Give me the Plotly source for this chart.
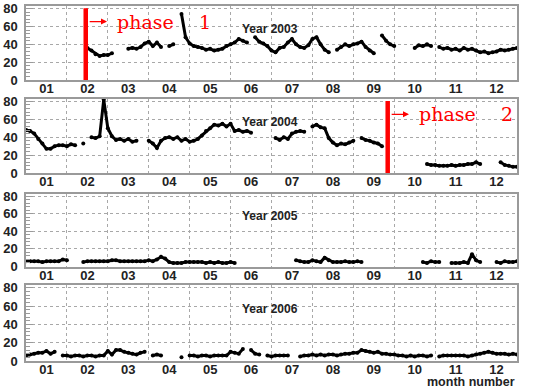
import plotly.graph_objects as go

N = None

# ---------------- data ----------------
month_labels = ["01", "02", "03", "04", "05", "06", "07", "08", "09", "10", "11", "12"]
years = ["2003", "2004", "2005", "2006"]
# sampling grid in month units (0 = start of January, 12 = end of December), step 0.1 month
sample_month = [round(0.1 * i, 1) for i in range(121)]

rate_2003 = [
    N, N, N, N, N, N, N, N, N, N,
    N, N, N, N, N, 36, 33, 29, 27, 28,
    28, 30, N, N, N, 35, 36, 35, 37, 41,
    43, 38, 42, 37, N, 38, 40, N, 74, 48,
    41, 38, 37, 36, 34, 35, 33, 34, 35, 38,
    40, 42, 46, 44, 42, N, 48, 43, 41, 38,
    33, 31, 36, 37, 42, 46, 40, 37, 36, 39,
    46, 48, 40, 34, 31, N, 34, 37, 40, 38,
    40, 41, 43, 37, 33, 30, N, 50, 44, 40,
    38, N, N, N, N, 36, 39, 38, 40, 38,
    N, 37, 35, 36, 34, 35, 33, 36, 34, 35,
    33, 31, 32, 30, 31, 32, 34, 33, 34, 35,
    36,
]

rate_2004 = [
    48, 47, 44, 38, 33, 27, 27, 30, 31, 31,
    30, 32, 31, N, 33, N, 40, 39, 41, 82,
    50, 41, 37, 38, 36, 38, 35, 36, N, N,
    36, 33, 28, 36, 39, 40, 38, 40, 36, 38,
    35, 36, 38, 42, 47, 50, 54, 53, 55, 52,
    55, 47, 48, 46, 47, 45, N, N, N, N,
    N, 39, 37, 40, 38, 44, 46, 47, 46, N,
    52, 54, 51, 50, 39, 34, 31, 33, 32, 34,
    36, N, 39, 37, 36, 34, 33, 30, N, N,
    N, N, N, N, N, N, N, N, 10, 9,
    9, 8, 8, 8, 9, 8, 9, 9, 10, 10,
    12, 10, N, N, N, N, 12, 9, 8, 7,
    7,
]

rate_2005 = [
    6, 6, 6, 6, 5, 6, 6, 6, 6, 8,
    7, N, N, N, 5, 6, 6, 6, 6, 6,
    6, 7, 7, 6, 6, 6, 6, 6, 6, 6,
    7, 6, 8, 11, 9, 5, 4, 4, 4, 5,
    5, 5, 5, 5, 4, 5, 4, 5, 4, 4,
    5, 4, N, N, N, N, N, N, N, N,
    N, N, N, N, N, N, 7, 6, 5, 5,
    7, 6, 5, 10, 7, 5, 5, 5, 6, 5,
    5, 6, 5, N, N, N, N, N, N, N,
    N, N, N, N, N, N, N, 5, 4, 6,
    5, 5, N, N, 4, 4, 4, 5, 4, 14,
    7, 5, N, N, N, 5, 4, 6, 5, 5,
    6,
]

rate_2006 = [
    6, 7, 8, 9, 9, 11, 8, 10, N, 6,
    6, 5, 6, 6, 5, 6, 6, 5, 6, 6,
    11, 7, 12, 12, 10, 9, 8, 7, 9, 10,
    N, 6, 7, 6, N, N, N, N, 4, N,
    6, 6, 5, 6, 6, 5, 6, 6, 6, 6,
    10, 9, 8, 13, N, 12, 8, 7, N, 6,
    5, 6, 6, 6, 6, N, N, 5, 6, 6,
    7, 6, 7, 6, 7, 7, 6, 7, 8, 8,
    9, 9, 12, 11, 10, 9, 10, 8, 8, 7,
    7, 6, 6, 5, 6, 5, 6, 6, 5, 6,
    N, 5, 6, 6, 6, 6, 6, 6, 5, 6,
    7, 8, 9, 10, 9, 8, 8, 8, 7, 8,
    7,
]

rates = [rate_2003, rate_2004, rate_2005, rate_2006]

phase_names = ["phase", "phase"]
phase_numbers = ["1", "2"]
phase_panel = [0, 1]          # which year panel
phase_start = [1.46, 8.84]    # month position of the phase boundary

# ---------------- style / layout ----------------
W, H = 544, 388
x_left_px, x_right_px = 26, 517
panel_px = [(6, 80), (98.7, 173), (193.5, 266.5), (285, 361)]

frame_color = "#9a9a9a"
grid_color = "#a8a8a8"
text_color = "#222222"
font_sans = "Liberation Sans, Arial, Helvetica, sans-serif"
font_phase = "DejaVu Serif, Liberation Serif, serif"

fig = go.Figure()
layout = dict(
    width=W, height=H,
    margin=dict(l=0, r=0, t=0, b=0),
    paper_bgcolor="white", plot_bgcolor="white",
    showlegend=False,
    annotations=[],
)

xdom = [x_left_px / W, x_right_px / W]

for i, (yr, vals) in enumerate(zip(years, rates)):
    n = "" if i == 0 else str(i + 1)
    top_px, bot_px = panel_px[i]
    ydom = [1 - bot_px / H, 1 - top_px / H]
    layout["xaxis" + n] = dict(
        domain=xdom, range=[0, 12], anchor="y" + n,
        tickmode="array", tickvals=[k + 0.5 for k in range(12)], ticktext=month_labels,
        ticks="", ticklen=0, ticklabelstandoff=-4, showgrid=False, zeroline=False,
        showline=True, mirror=True, linecolor=frame_color, linewidth=1.5,
        tickfont=dict(family=font_sans, size=13, color=text_color, weight="bold"),
        minor=dict(tickmode="array", tickvals=list(range(1, 12)), showgrid=True,
                   gridcolor=grid_color, griddash="dot", gridwidth=1, ticks=""),
        automargin=False, fixedrange=True,
    )
    layout["yaxis" + n] = dict(
        domain=ydom, range=[0, 83], anchor="x" + n,
        tickmode="array", tickvals=[0, 20, 40, 60, 80],
        ticks="inside", ticklen=7, tickcolor=frame_color, tickwidth=1,
        showgrid=True, gridcolor=grid_color, griddash="dot", gridwidth=1,
        zeroline=False, showline=True, mirror=True, linecolor=frame_color, linewidth=1.5,
        minor=dict(tick0=0, dtick=4, ticks="inside", ticklen=4, tickcolor=frame_color,
                   showgrid=False),
        ticklabelstandoff=4,
        tickfont=dict(family=font_sans, size=13, color=text_color, weight="bold"),
        automargin=False, fixedrange=True,
    )
    fig.add_trace(go.Scatter(
        x=sample_month, y=vals, mode="lines+markers", connectgaps=False,
        line=dict(color="black", width=3),
        marker=dict(size=4, color="black"),
        xaxis="x" + n, yaxis="y" + n, hoverinfo="skip",
    ))
    layout["annotations"].append(dict(
        text="Year " + yr, x=5.97, y=57, xref="x" + n, yref="y" + n,
        showarrow=False, xanchor="center", yanchor="middle",
        font=dict(family=font_sans, size=12, color=text_color, weight="bold"),
    ))

for name, num, p, m in zip(phase_names, phase_numbers, phase_panel, phase_start):
    n = "" if p == 0 else str(p + 1)
    fig.add_trace(go.Scatter(
        x=[m, m], y=[0, 80.5], mode="lines", line=dict(color="#ff0000", width=4.5),
        xaxis="x" + n, yaxis="y" + n, hoverinfo="skip", cliponaxis=False,
    ))
    layout["annotations"].append(dict(
        text="", x=m + 0.52, y=65.5, ax=m + 0.06, ay=65.5,
        xref="x" + n, yref="y" + n, axref="x" + n, ayref="y" + n,
        showarrow=True, arrowhead=2, arrowsize=1, arrowwidth=1.2, arrowcolor="#ff0000",
    ))
    layout["annotations"].append(dict(
        text=name, x=m + 0.72, y=65.5, xref="x" + n, yref="y" + n,
        showarrow=False, xanchor="left", yanchor="middle",
        font=dict(family=font_phase, size=19, color="#ff0000"),
    ))
    layout["annotations"].append(dict(
        text=num, x=m + 3.1, y=65.5, xref="x" + n, yref="y" + n,
        showarrow=False, xanchor="right", yanchor="middle",
        font=dict(family=font_phase, size=19, color="#ff0000"),
    ))

layout["annotations"].append(dict(
    text="month number", x=x_right_px / W, y=1 - 381.5 / H, xref="paper", yref="paper",
    showarrow=False, xanchor="right", yanchor="middle",
    font=dict(family=font_sans, size=12.5, color=text_color, weight="bold"),
))

fig.update_layout(**layout)
fig.write_html(
    "out.html",
    config={"displayModeBar": False},
    post_script="document.body.style.margin='0';document.body.style.overflow='hidden';",
)
